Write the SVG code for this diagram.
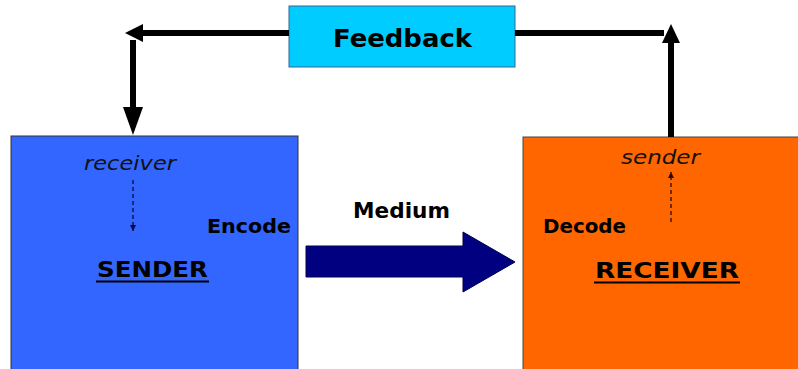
<svg xmlns="http://www.w3.org/2000/svg" width="798" height="369" viewBox="0 0 798 369">
<style>
.b{font-family:"DejaVu Sans","Verdana",sans-serif;font-weight:bold;fill:#000}
.i{font-family:"DejaVu Sans","Verdana",sans-serif;font-style:italic;fill:#111}
.fb{stroke:#000;stroke-width:6;fill:none}
</style>
<defs>
<marker id="dn" viewBox="0 0 10 10" refX="10" refY="5" markerWidth="6" markerHeight="6" orient="auto" markerUnits="userSpaceOnUse"><path d="M0,0L10,5L0,10z" fill="#0a0a40"/></marker>
<marker id="dr" viewBox="0 0 10 10" refX="10" refY="5" markerWidth="6" markerHeight="6" orient="auto" markerUnits="userSpaceOnUse"><path d="M0,0L10,5L0,10z" fill="#2a0a00"/></marker>
</defs>
<rect width="798" height="369" fill="#fff"/>
<g id="sender">
<rect x="11" y="136" width="287" height="240" fill="#3366ff" stroke="#333" stroke-width="1"/>
<text class="i" x="84" y="170" font-size="20" textLength="92" lengthAdjust="spacingAndGlyphs">receiver</text>
<line x1="133" y1="180" x2="133" y2="231" stroke="#0a0a40" stroke-width="1.3" stroke-dasharray="4,3" marker-end="url(#dn)"/>
<text class="b" x="207" y="233" font-size="19" textLength="84" lengthAdjust="spacingAndGlyphs">Encode</text>
<text class="b" x="97" y="277" font-size="21" textLength="111" lengthAdjust="spacingAndGlyphs">SENDER</text>
<line x1="96" y1="281.5" x2="209" y2="281.5" stroke="#000" stroke-width="2"/>
</g>
<g id="receiver">
<rect x="523" y="137" width="290" height="240" fill="#ff6600" stroke="#444" stroke-width="1"/>
<text class="i" x="621" y="164" font-size="20" textLength="79" lengthAdjust="spacingAndGlyphs">sender</text>
<line x1="671" y1="222" x2="671" y2="172" stroke="#2a0a00" stroke-width="1.3" stroke-dasharray="4,3" marker-end="url(#dr)"/>
<text class="b" x="543" y="233" font-size="19" textLength="83" lengthAdjust="spacingAndGlyphs">Decode</text>
<text class="b" x="595" y="278" font-size="21" textLength="144" lengthAdjust="spacingAndGlyphs">RECEIVER</text>
<line x1="594" y1="282.5" x2="740" y2="282.5" stroke="#000" stroke-width="2"/>
</g>
<g id="feedback">
<rect x="289" y="6" width="226" height="61" fill="#00ccff" stroke="#336699" stroke-width="1"/>
<text class="b" x="333" y="47" font-size="24" textLength="139" lengthAdjust="spacingAndGlyphs">Feedback</text>
</g>
<g id="medium">
<text class="b" x="353" y="218" font-size="21" textLength="97" lengthAdjust="spacingAndGlyphs">Medium</text>
<path d="M306,246H463V232L515,262L463,292V277H306z" fill="#000080" stroke="#000050" stroke-width="1"/>
</g>
<g id="connectors">
<path class="fb" d="M289,33H140"/>
<path d="M125,33L143,24V42z" fill="#000"/>
<path class="fb" d="M133,40V110"/>
<path d="M133,135L123,107H143z" fill="#000"/>
<path class="fb" d="M515,33H664"/>
<path class="fb" d="M671,137V40"/>
<path d="M671,24L662,43H680z" fill="#000"/>
</g>
</svg>
